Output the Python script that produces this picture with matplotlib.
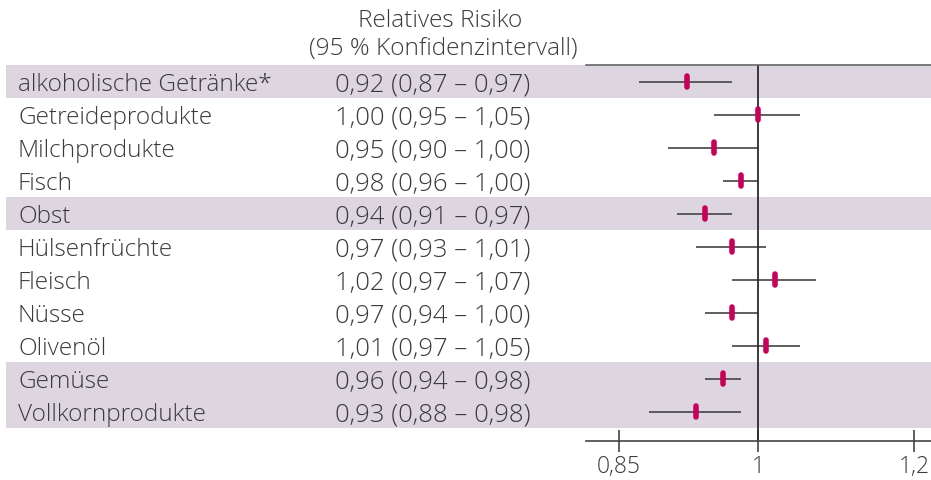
import matplotlib.pyplot as plt
import matplotlib.ticker as mticker

plt.rcParams["font.family"] = ["Open Sans", "DejaVu Sans"]
plt.rcParams["font.weight"] = "light"

# data
labels = [
    "alkoholische Getränke*",
    "Getreideprodukte",
    "Milchprodukte",
    "Fisch",
    "Obst",
    "Hülsenfrüchte",
    "Fleisch",
    "Nüsse",
    "Olivenöl",
    "Gemüse",
    "Vollkornprodukte",
]
rr = [0.92, 1.00, 0.95, 0.98, 0.94, 0.97, 1.02, 0.97, 1.01, 0.96, 0.93]
lo = [0.87, 0.95, 0.90, 0.96, 0.91, 0.93, 0.97, 0.94, 0.97, 0.94, 0.88]
hi = [0.97, 1.05, 1.00, 1.00, 0.97, 1.01, 1.07, 1.00, 1.05, 0.98, 0.98]
shaded = [0, 4, 9, 10]
ticks = [0.85, 1.0, 1.2]
tick_labels = ["0,85", "1", "1,2"]

W, H = 931, 481
txt = "#3b3b3b"
band = "#ddd6e0"
mag = "#c8005a"
fs = 17.6

fig = plt.figure(figsize=(W / 100, H / 100), dpi=100)

# axes geometry in pixels
top, bottom = 66, 442
ylim = (-0.5 + (bottom - top) / 33.0, -0.5)


def px_axes(x0, x1):
    return fig.add_axes([x0 / W, 1 - bottom / H, (x1 - x0) / W, (bottom - top) / H])


# left table
tab = px_axes(6, 586)
tab.set_xlim(0, 1)
tab.set_ylim(*ylim)
tab.axis("off")
for i in shaded:
    tab.axhspan(i - 0.5, i + 0.5, color=band, lw=0, zorder=0)
for i, lab in enumerate(labels):
    tab.text(12 / 580, i + 0.26, lab, ha="left", va="baseline", fontsize=fs, color=txt)
    s = f"{rr[i]:.2f} ({lo[i]:.2f} – {hi[i]:.2f})".replace(".", ",")
    tab.text(427 / 580, i + 0.26, s, ha="center", va="baseline", fontsize=18.5,
             color=txt)

fig.text(440 / W, 1 - 21 / H, "Relatives Risiko", ha="center", va="center",
         fontsize=fs, color=txt)
fig.text(443 / W, 1 - 49 / H, "(95 % Konfidenzintervall)", ha="center",
         va="center", fontsize=fs, color=txt)

# forest plot
ax = px_axes(586, 931)
ax.set_xscale("log")
ax.set_xlim(0.818, 1.224)
ax.set_ylim(*ylim)
for i in shaded:
    ax.axhspan(i - 0.5, i + 0.5, color=band, lw=0, zorder=0)

ys = list(range(len(labels)))
ax.hlines(ys, lo, hi, color="#444444", lw=1.2, zorder=2)
ax.vlines(rr, [y - 0.17 for y in ys], [y + 0.17 for y in ys], color=mag,
          lw=4, capstyle="round", zorder=3)
ax.axvline(1.0, color="#2b2b2b", lw=1.3, zorder=2)

for s in ["left", "right"]:
    ax.spines[s].set_visible(False)
ax.spines["top"].set_color("#666666")
ax.spines["top"].set_linewidth(1.2)
ax.spines["bottom"].set_color("#444444")
ax.spines["bottom"].set_linewidth(1.2)

ax.set_yticks([])
ax.xaxis.set_major_locator(mticker.FixedLocator(ticks))
ax.xaxis.set_major_formatter(mticker.FixedFormatter(tick_labels))
ax.xaxis.set_minor_locator(mticker.NullLocator())
ax.tick_params(axis="x", direction="inout", length=16, width=1.2,
               color="#444444", labelsize=16.5, labelcolor=txt, pad=1.5)

fig.savefig("out.png", dpi=100)
